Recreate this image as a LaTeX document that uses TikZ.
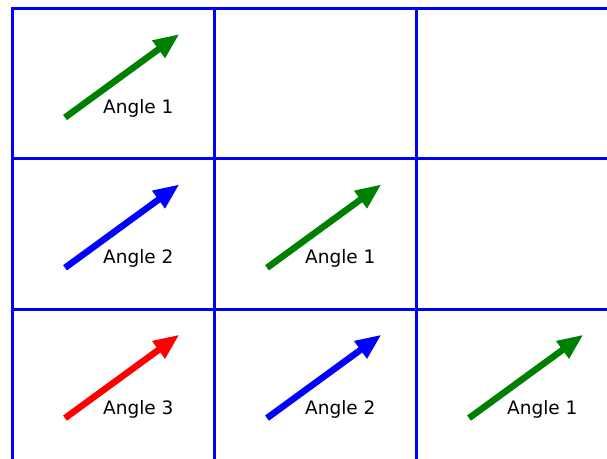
\documentclass[tikz,border=0pt]{standalone}
\usepackage{fontspec}
\setmainfont{DejaVu Sans}
\usetikzlibrary{arrows.meta}
\definecolor{cGreen}{RGB}{0,128,0}
\tikzset{
  gridline/.style={draw=blue, line width=3pt, line cap=rect},
  anglearrow/.style={
    -{Triangle[length=26pt, width=20pt]}, line width=6.5pt, color=#1
  },
  anglelabel/.style={
    anchor=base west, inner sep=0pt,
    font=\fontsize{18.5}{22}\selectfont
  },
}

\begin{document}
\begin{tikzpicture}[x=1pt, y=-1pt]
\useasboundingbox (0,0) rectangle (607,458);

% ---- Grid ----
\foreach \gx in {12,214,416}
  \draw[gridline] (\gx,8.5) -- (\gx,470);
\foreach \gy in {8.5,158.8,309.1}
  \draw[gridline] (12,\gy) -- (620,\gy);

% ---- Arrows and labels per cell ----
\foreach \col/\row/\clr/\txt [count=\i] in {
    0/0/cGreen/Angle 1,
    0/1/blue/Angle 2, 1/1/cGreen/Angle 1,
    0/2/red/Angle 3, 1/2/blue/Angle 2, 2/2/cGreen/Angle 1} {
  \coordinate (cell\i) at (12+202*\col, 8.5+150.3*\row);
  \coordinate (tail\i) at ([shift={(53,109)}]cell\i);
  \coordinate (tip\i) at ([shift={(167.5,25.5)}]cell\i);
  \draw[anglearrow=\clr] (tail\i) -- (tip\i);
  \node[anglelabel] (label\i) at ([shift={(91,105)}]cell\i) {\txt};
}

\end{tikzpicture}
\end{document}
